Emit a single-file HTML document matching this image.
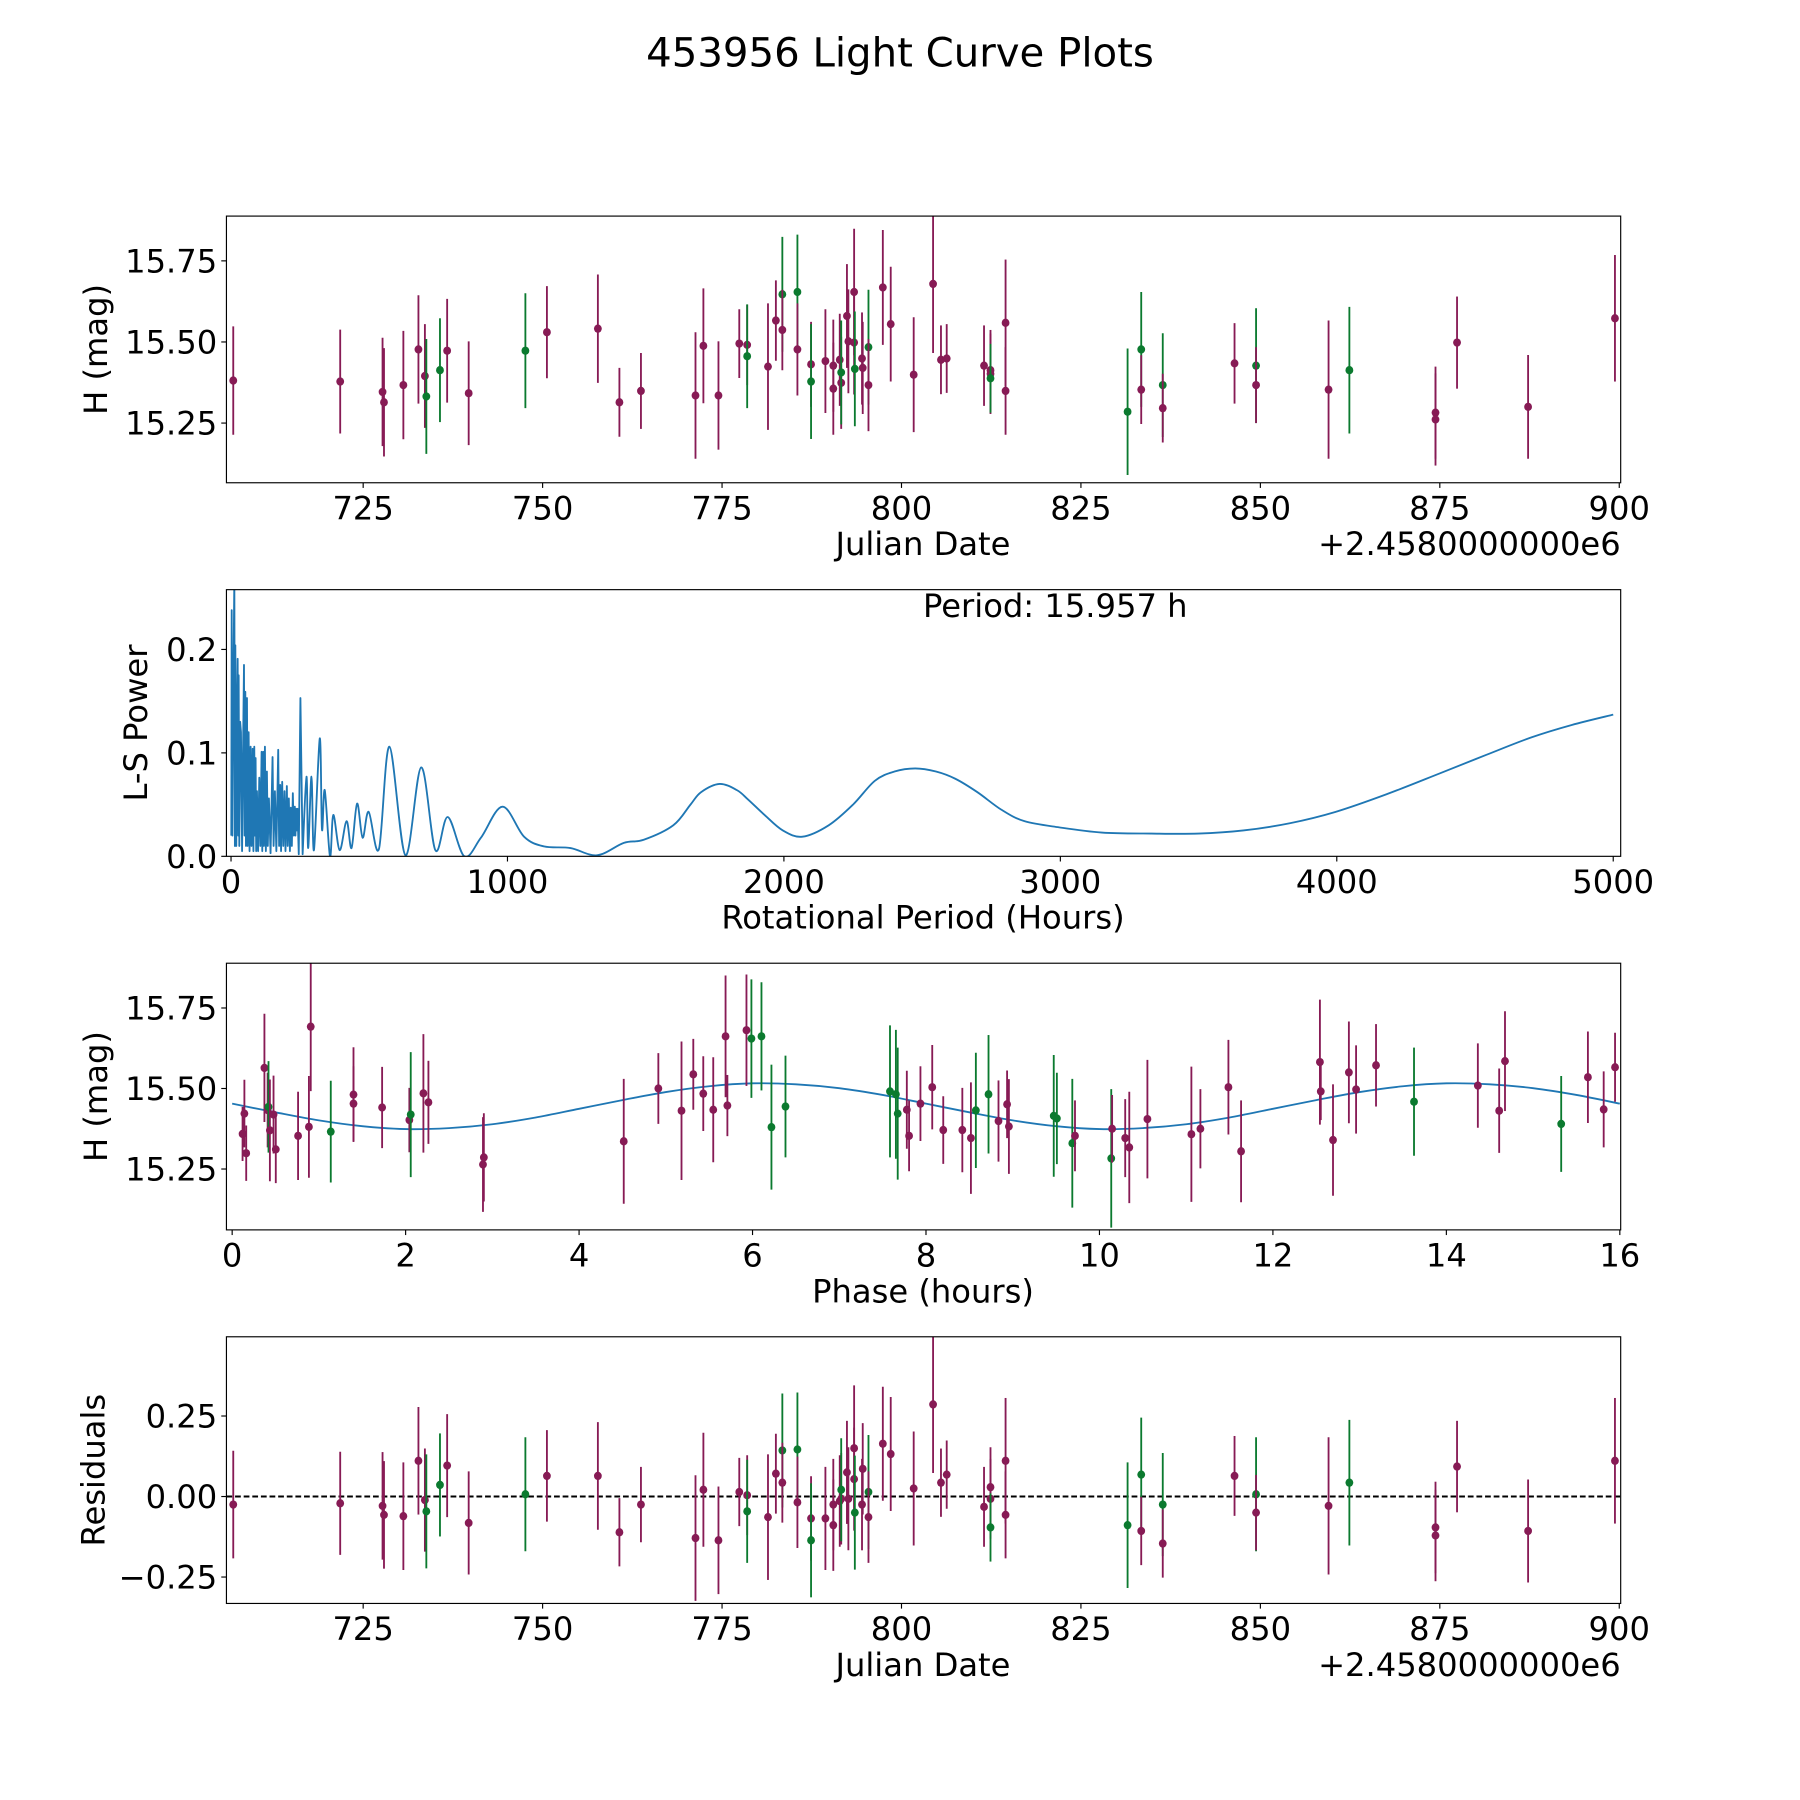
<!DOCTYPE html>
<html><head><meta charset="utf-8"><title>453956 Light Curve Plots</title>
<style>html,body{margin:0;padding:0;background:#fff}svg{display:block}text{font-family:"DejaVu Sans","Liberation Sans",sans-serif;fill:#000}</style>
</head><body>
<svg id="fig" xmlns="http://www.w3.org/2000/svg" width="1800" height="1800" viewBox="0 0 1566 1566">
<rect width="1566" height="1566" fill="#fff"/>
<text x="783" y="58" font-size="35" text-anchor="middle">453956 Light Curve Plots</text>
</svg>
<script>
// ---- Data: observations (Julian date offset from 2458000) ----
const obsDate=[706.9,721.8,727.7,727.9,730.6,732.7,733.6,733.8,735.7,736.7,739.7,747.6,750.6,757.7,760.7,763.7,771.3,772.4,774.5,777.4,778.5,778.5,781.4,782.5,783.4,783.4,785.5,785.5,787.4,787.4,789.4,790.5,790.5,791.4,791.6,791.6,792.4,792.6,793.4,793.4,793.5,794.5,794.6,795.4,795.4,797.4,798.5,801.7,804.4,805.5,806.3,811.5,812.4,812.4,812.4,814.5,814.5,831.5,833.4,833.4,836.4,836.4,846.4,849.4,849.4,859.5,862.4,874.4,874.4,877.4,887.3,899.4];
const obsMag=[15.381,15.378,15.346,15.314,15.367,15.477,15.395,15.332,15.413,15.473,15.342,15.473,15.530,15.541,15.314,15.349,15.335,15.488,15.335,15.495,15.491,15.456,15.424,15.566,15.647,15.537,15.654,15.477,15.431,15.378,15.441,15.427,15.356,15.445,15.374,15.406,15.580,15.502,15.654,15.498,15.417,15.449,15.420,15.484,15.367,15.668,15.555,15.399,15.679,15.445,15.449,15.427,15.413,15.402,15.388,15.559,15.349,15.285,15.477,15.353,15.367,15.296,15.434,15.427,15.367,15.353,15.413,15.282,15.261,15.498,15.300,15.573];
const obsErr=[0.167,0.16,0.167,0.167,0.167,0.167,0.16,0.177,0.16,0.16,0.16,0.177,0.142,0.167,0.106,0.117,0.195,0.177,0.167,0.106,0.124,0.16,0.195,0.124,0.177,0.124,0.177,0.142,0.131,0.177,0.16,0.142,0.142,0.142,0.142,0.16,0.16,0.16,0.195,0.16,0.177,0.142,0.142,0.177,0.142,0.177,0.177,0.177,0.213,0.106,0.106,0.124,0.124,0.124,0.106,0.195,0.135,0.195,0.177,0.106,0.16,0.106,0.124,0.177,0.117,0.213,0.195,0.142,0.142,0.142,0.16,0.195];
const obsFilter=['p','p','p','p','p','p','p','g','g','p','p','g','p','p','p','p','p','p','p','p','p','g','p','p','g','p','g','p','p','g','p','p','p','p','p','g','p','p','p','p','g','p','p','g','p','p','p','p','p','p','p','p','p','p','g','p','p','g','g','p','g','p','p','g','p','p','g','p','p','p','p','p'];
const obsResid=[-0.025,-0.021,-0.029,-0.057,-0.061,0.111,-0.011,-0.046,0.036,0.096,-0.082,0.007,0.064,0.064,-0.111,-0.025,-0.129,0.021,-0.136,0.014,0.004,-0.046,-0.064,0.071,0.143,0.043,0.146,-0.018,-0.068,-0.136,-0.068,-0.025,-0.089,-0.014,-0.007,0.021,0.075,-0.007,0.15,0.054,-0.05,-0.025,0.086,0.014,-0.064,0.164,0.132,0.025,0.286,0.043,0.068,-0.032,0.029,-0.007,-0.096,0.111,-0.057,-0.089,0.068,-0.107,-0.025,-0.146,0.064,0.007,-0.05,-0.029,0.043,-0.096,-0.121,0.093,-0.107,0.111];
// ---- Data: phased light curve ----
const phaseHours=[0.120,0.141,0.162,0.372,0.409,0.419,0.435,0.477,0.503,0.760,0.885,0.906,1.137,1.399,1.399,1.729,2.043,2.059,2.205,2.263,2.892,2.902,4.515,4.914,5.181,5.317,5.432,5.547,5.689,5.710,5.930,5.987,6.103,6.218,6.380,7.585,7.653,7.674,7.779,7.805,7.936,8.072,8.199,8.419,8.518,8.575,8.721,8.836,8.935,8.956,9.473,9.509,9.687,9.718,10.136,10.146,10.297,10.344,10.553,11.06,11.164,11.487,11.633,12.542,12.552,12.693,12.876,12.959,13.189,13.627,14.363,14.609,14.676,15.324,15.632,15.814,15.945];
const phaseMag=[15.359,15.422,15.299,15.564,15.433,15.443,15.370,15.419,15.311,15.353,15.381,15.692,15.366,15.481,15.453,15.441,15.402,15.419,15.485,15.457,15.264,15.286,15.336,15.5,15.431,15.544,15.484,15.434,15.662,15.447,15.681,15.655,15.662,15.380,15.444,15.491,15.482,15.422,15.434,15.353,15.453,15.504,15.371,15.371,15.346,15.432,15.482,15.399,15.451,15.382,15.415,15.407,15.330,15.353,15.283,15.375,15.346,15.317,15.405,15.358,15.375,15.504,15.305,15.582,15.491,15.340,15.550,15.497,15.572,15.459,15.509,15.431,15.585,15.390,15.535,15.435,15.566];
const phaseErr=[0.084,0.105,0.086,0.168,0.116,0.142,0.158,0.121,0.105,0.137,0.158,0.2,0.158,0.147,0.116,0.126,0.1,0.194,0.184,0.129,0.147,0.137,0.194,0.11,0.215,0.11,0.116,0.163,0.189,0.095,0.173,0.184,0.168,0.194,0.158,0.205,0.2,0.205,0.121,0.11,0.116,0.131,0.105,0.131,0.173,0.179,0.184,0.126,0.105,0.147,0.189,0.142,0.2,0.11,0.215,0.105,0.121,0.173,0.184,0.21,0.123,0.147,0.158,0.194,0.089,0.173,0.158,0.137,0.128,0.168,0.131,0.131,0.155,0.149,0.142,0.118,0.107];
const phaseFilter=['p','p','p','p','p','g','p','p','p','p','p','p','g','p','p','p','p','g','p','p','p','p','p','p','p','p','p','p','p','p','p','g','g','g','g','g','g','g','p','p','p','p','p','p','p','g','g','p','p','p','g','g','g','p','g','p','p','p','p','p','p','p','p','p','p','p','p','p','p','g','p','p','p','g','p','p','p'];
// ---- Data: model curve sampled every 0.5 h ----
const modelPhase=[0,0.5,1,1.5,2,2.5,3,3.5,4,4.5,5,5.5,6,6.5,7,7.5,8,8.5,9,9.5,10,10.5,11,11.5,12,12.5,13,13.5,14,14.5,15,15.5,16];
const modelMag=[15.453,15.426,15.401,15.383,15.374,15.377,15.389,15.410,15.437,15.464,15.489,15.507,15.516,15.513,15.501,15.480,15.453,15.426,15.401,15.383,15.374,15.377,15.389,15.410,15.437,15.464,15.489,15.507,15.516,15.513,15.501,15.480,15.453];
// ---- Data: Lomb-Scargle periodogram ----
const lsPeriod=[1,2.4,5,8,12,14,15.6,19,21,24,26,27.6,30,33,36,40,43,46.9,49,51.7,54,57.7,60,63.7,67,70.9,74,78.1,81,84.1,86.5,88.9,91,93.8,98,102.2,106,110.6,113,116.6,119,122.6,126,129.8,133,137,143,150.2,154,158.7,164,170.7,174,177.9,181,185.1,189,193.5,197,201.9,205,209.1,213,216.3,220,223.6,227,230.8,233,235.6,238,240.4,245,251,259,
273,279,291,300,321,329,339,358,370,393,418,436,456,476,498,535,573,631,688,739,784,844,904,982,1060,1132,1228,1324,1421,1493,1600,1662,1700,1767,1830,1870,1930,1996,2067,2162,2250,2329,2400,2475,2550,2620,2700,2787,2870,2996,3150,3329,3500,3662,3830,3996,4180,4371,4540,4704,4850,5000];
const lsPower=[0.02,0.238,0.02,0.15,0.27,0.01,0.204,0.01,0.12,0.191,0.02,0.175,0.01,0.13,0.12,0.005,0.09,0.185,0.02,0.159,0.01,0.153,0.01,0.12,0.005,0.106,0.01,0.104,0.005,0.106,0.02,0.095,0.005,0.063,0.005,0.076,0.01,0.101,0.005,0.101,0.01,0.106,0.005,0.082,0.01,0.056,0.003,0.096,0.01,0.063,0.005,0.103,0.01,0.069,0.005,0.072,0.01,0.063,0.005,0.068,0.01,0.056,0.005,0.047,0.01,0.061,0.02,0.048,0.02,0.046,0.025,0.046,0.002,0.153,0.002,
0.077,0.008,0.077,0.006,0.114,0.026,0.064,0,0.04,0.006,0.034,0.008,0.051,0.018,0.043,0.007,0.106,0.001,0.086,0.006,0.038,0,0.018,0.048,0.019,0.0096,0.008,0.001,0.013,0.016,0.03,0.05,0.062,0.07,0.064,0.055,0.04,0.025,0.019,0.03,0.05,0.073,0.082,0.085,0.082,0.075,0.062,0.045,0.034,0.028,0.023,0.022,0.022,0.025,0.032,0.043,0.06,0.08,0.098,0.115,0.127,0.137];
const lsNoisyCount=75;
// ---- Tick labels ----
const dateTicks=[725,750,775,800,825,850,875,900];
const magTicks=[15.25,15.5,15.75];
const magTickLabels=['15.25','15.50','15.75'];
const periodTicks=[0,1000,2000,3000,4000,5000];
const powerTicks=[0,0.1,0.2];
const powerTickLabels=['0.0','0.1','0.2'];
const phaseTicks=[0,2,4,6,8,10,12,14,16];
const residTicks=[-0.25,0,0.25];
const residTickLabels=['\u22120.25','0.00','0.25'];

const NS='http://www.w3.org/2000/svg';
const svg=document.getElementById('fig');
const PURPLE='#871b55', GREEN='#0b7a2f', BLUE='#1f77b4';
const L=197,R=1410,H=232;
function mk(tag,attrs,parent){const e=document.createElementNS(NS,tag);for(const k in attrs)e.setAttribute(k,attrs[k]);(parent||svg).appendChild(e);return e;}
function scale(d0,d1,r0,r1){return v=>r0+(v-d0)/(d1-d0)*(r1-r0);}
function panel(name,top,xd,yd){
  const g=mk('g',{});
  
  
  return {g,top,x:scale(xd[0],xd[1],L,R),y:scale(yd[0],yd[1],top+H,top)};
}
function frame(p){
  const r=mk('rect',{x:L,y:p.top,width:R-L,height:H,fill:'none',stroke:'#000','stroke-width':1},p.g);
  
  
}
function xticks(p,vals,labels){
  const g=mk('g',{},p.g);
  
  
  vals.forEach((v,i)=>{const X=p.x(v);
    mk('line',{x1:X,x2:X,y1:p.top+H,y2:p.top+H+4.5,stroke:'#000','stroke-width':1},g);
    const t=mk('text',{x:X,y:p.top+H+32,'font-size':28,'text-anchor':'middle'},g);t.textContent=labels[i];
    
    });
}
function yticks(p,vals,labels){
  const g=mk('g',{},p.g);
  
  
  vals.forEach((v,i)=>{const Y=p.y(v);
    mk('line',{x1:L-4.5,x2:L,y1:Y,y2:Y,stroke:'#000','stroke-width':1},g);
    const t=mk('text',{x:L-8,y:Y+10,'font-size':28,'text-anchor':'end'},g);t.textContent=labels[i];
    
    });
}
function label(p,txt,x,y,rot,name,anchor){
  const t=mk('text',{x:x,y:y,'font-size':28,'text-anchor':anchor||'middle'},p.g);
  if(rot)t.setAttribute('transform','rotate(-90 '+x+' '+y+')');
  t.textContent=txt;
  
  
  return t;
}
function errpoints(p,xs,ys,es,fs,name){
  const g=mk('g',{},p.g);
  
  
  xs.forEach((xv,i)=>{const c=fs[i]==='g'?GREEN:PURPLE;const X=p.x(xv);
    const clipTop=Math.max(p.y(ys[i]+es[i]),p.top),clipBot=Math.min(p.y(ys[i]-es[i]),p.top+H);
    const l=mk('line',{x1:X,x2:X,y1:clipTop,y2:clipBot,stroke:c,'stroke-width':1.6},g);
    
    
    const m=mk('ellipse',{cx:X,cy:p.y(ys[i]),rx:3.4,ry:3.6,fill:c},g);
    
    });
}
function catmull(pts){let d='M'+pts[0][0]+','+pts[0][1];
  for(let i=0;i<pts.length-1;i++){const p0=pts[Math.max(i-1,0)],p1=pts[i],p2=pts[i+1],p3=pts[Math.min(i+2,pts.length-1)];
    d+=' C'+(p1[0]+(p2[0]-p0[0])/6)+','+(p1[1]+(p2[1]-p0[1])/6)+' '+(p2[0]-(p3[0]-p1[0])/6)+','+(p2[1]-(p3[1]-p1[1])/6)+' '+p2[0]+','+p2[1];}
  return d;}

// Panel 1: light curve
const p1=panel('light-curve-panel',188,[705.95,900.2],[15.066,15.888]);
errpoints(p1,obsDate,obsMag,obsErr,obsFilter,'magnitude-series');
frame(p1);
xticks(p1,dateTicks,dateTicks.map(String));
yticks(p1,magTicks,magTickLabels);
label(p1,'H (mag)',93,304,true,'y-axis-title');
label(p1,'Julian Date',803,483,false,'x-axis-title');
label(p1,'+2.4580000000e6',1410,483,false,'x-axis-offset','end');

// Panel 2: periodogram
const p2=panel('periodogram-panel',513,[-16.6,5027],[0,0.2578]);
const cp=mk('clipPath',{id:'c2'});mk('rect',{x:L,y:513,width:R-L,height:H},cp);
let pts=lsPeriod.map((h,i)=>[p2.x(h),p2.y(lsPower[i])]);
let d='M'+pts.slice(0,lsNoisyCount).map(q=>q[0].toFixed(2)+','+q[1].toFixed(2)).join(' L');
d+=' '+catmull(pts.slice(lsNoisyCount-1)).replace(/^M[^C]*/,'');
const lp=mk('path',{d:d,fill:'none',stroke:BLUE,'stroke-width':1.6,'clip-path':'url(#c2)','stroke-linejoin':'round'},p2.g);


frame(p2);
xticks(p2,periodTicks,periodTicks.map(String));
yticks(p2,powerTicks,powerTickLabels);
label(p2,'L-S Power',128,629,true,'y-axis-title');
label(p2,'Rotational Period (Hours)',803,808,false,'x-axis-title');
label(p2,'Period: 15.957 h',803,537,false,'period-annotation','start');

// Panel 3: phased
const p3=panel('phase-panel',838,[-0.066,16.01],[15.061,15.889]);
const cp3=mk('clipPath',{id:'c3'});mk('rect',{x:L,y:838,width:R-L,height:H},cp3);
const mp=mk('path',{d:catmull(modelPhase.map((v,i)=>[p3.x(v),p3.y(modelMag[i])])),fill:'none',stroke:BLUE,'stroke-width':1.6},p3.g);


const g3=mk('g',{'clip-path':'url(#c3)'},p3.g);
errpoints({g:g3,top:838,x:p3.x,y:p3.y},phaseHours,phaseMag,phaseErr,phaseFilter,'phased-series');
frame(p3);
xticks(p3,phaseTicks,phaseTicks.map(String));
yticks(p3,magTicks,magTickLabels);
label(p3,'H (mag)',93,954,true,'y-axis-title');
label(p3,'Phase (hours)',803,1133,false,'x-axis-title');

// Panel 4: residuals
const p4=panel('residuals-panel',1163,[705.95,900.2],[-0.332,0.496]);
const zl=mk('line',{x1:L,x2:R,y1:p4.y(0),y2:p4.y(0),stroke:'#000','stroke-width':1.7,'stroke-dasharray':'5,2.5'},p4.g);


errpoints(p4,obsDate,obsResid,obsErr,obsFilter,'residual-series');
frame(p4);
xticks(p4,dateTicks,dateTicks.map(String));
yticks(p4,residTicks,residTickLabels);
label(p4,'Residuals',91,1279,true,'y-axis-title');
label(p4,'Julian Date',803,1458,false,'x-axis-title');
label(p4,'+2.4580000000e6',1410,1458,false,'x-axis-offset','end');
</script>
</body></html>
